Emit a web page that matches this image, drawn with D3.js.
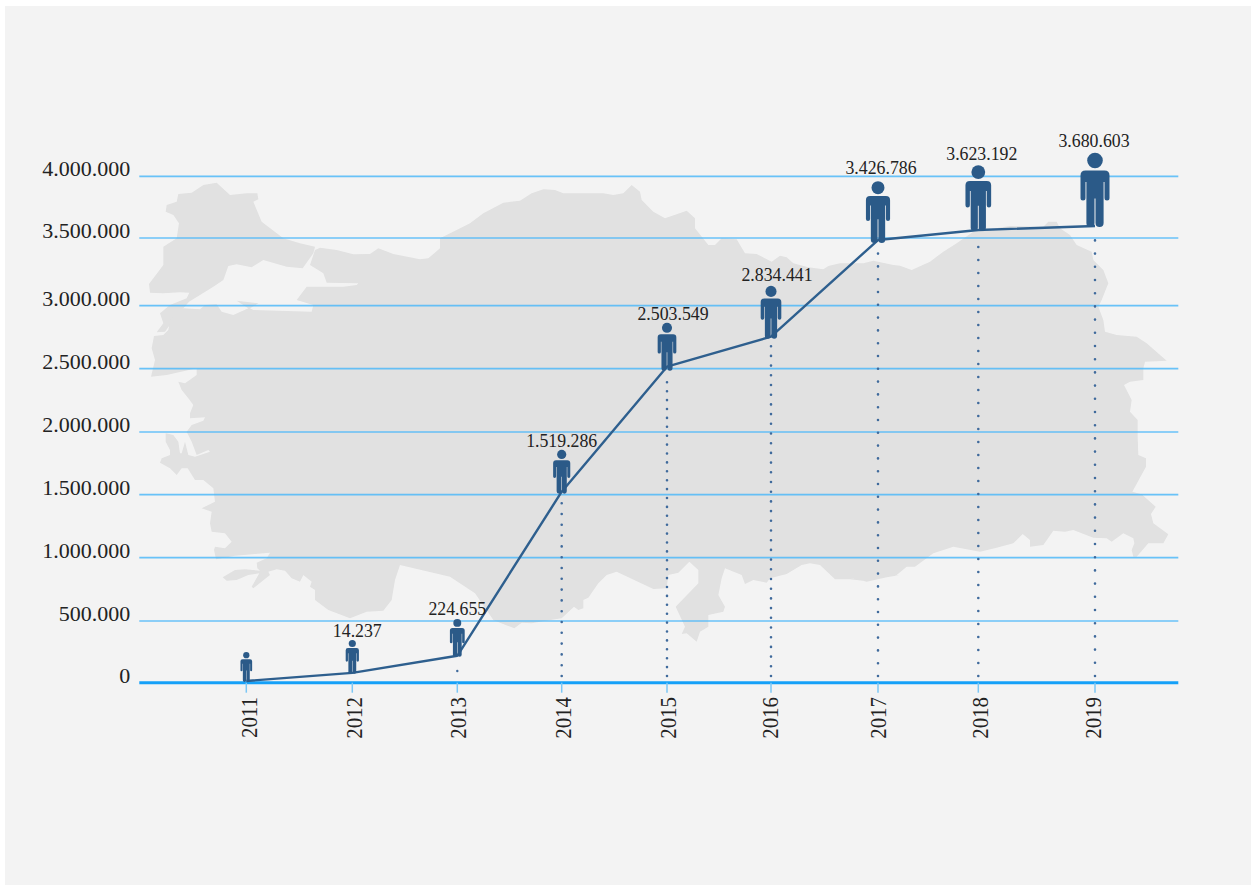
<!DOCTYPE html>
<html><head><meta charset="utf-8">
<script src="https://cdnjs.cloudflare.com/ajax/libs/d3/7.8.5/d3.min.js"></script>
<style>html,body{margin:0;padding:0;background:#fff}svg{display:block}</style>
</head><body><div id="chart"></div>
<script>
const years = [2011,2012,2013,2014,2015,2016,2017,2018,2019];
// values as plotted by the line in the picture
const plottedValues = [14000,80000,218000,1524000,2516000,2754000,3485000,3565000,3597000];
// values as printed above the figures
const printedValues = [null,14237,224655,1519286,2503549,2834441,3426786,3623192,3680603];
const yTicks = [0,500000,1000000,1500000,2000000,2500000,3000000,3500000,4000000];

// scale calibration (its grid is slightly uneven)
const yRange = [682.7,621,557.7,494.7,432,368.7,305.7,238,176.3];
const xRange = [246.3,352.3,457.3,561.7,667,771,878,978.3,1095];
const figureHeights = [30,34,38,44,48,53,62,66,74.5];
const figureFootDrop = [1,1,1,2,4,2,3,1,1];
const labelDx = [0,5,0,0,6,6,3,3.5,-1];
const labelGap = [0,3,4,3,3,4.5,7,5,5.5];
const dotGaps = [0,0,0,10.8,8.9,9.7,12.8,13,13.2];
const yearBaselineDx = [11,9.4,8.4,9,9,7,8,9.4,6];

// silhouette of the background map in [originX, originY, x,y, x,y ...] at 1/3 scale
const thraceTrace = [[0,130,640,470,600,495,567,515,520,570,495,605,470,607,490,580,480,550,510,525,560,505,568,488,540,487,490,490,450,488,447,462,490,405,490,350,530,325,537,280,520,255,497,245,500,225,530,215,535,192,575,188,610,165,650,158,690,195,740,190,772,190,775,208,760,215,785,275,850,325,900,340,945,350,940,370,908,415,860,410,790,390,755,412,710,403,685,408,670,450]];
const anatoliaTrace = [
 [0,130,945,360,960,353,1010,360,1060,373,1110,372,1135,355,1180,372,1260,388],
 [420,130,25,385,60,355,60,325,110,300,150,280,190,250,250,218,300,212,335,190,370,178,405,180,430,190,550,190,580,195,610,190,635,165,660,185,665,210,700,245,735,265,800,242,825,265,825,295,865,345,885,345,905,325,950,328,975,370,1010,372,1055,395,1080,377,1100,382,1120,400,1165,412,1210,418,1225,408,1260,400],
 [830,120,30,430,100,430,130,422,190,435,210,437,245,450,300,425,340,395,380,370,430,335,540,318,640,320,655,305,680,305,690,325,720,345,740,375,785,395,790,420,820,450,835,490,815,540,805,560,820,600,825,635,860,645,920,650,950,670,1010,722],
 [840,360,915,5,910,25,910,60,870,65,852,75,875,120,870,155,893,180,893,230,895,285,918,295,918,320,877,395,905,403,947,440,933,462,940,490,985,523,970,550,925,550,890,590,880,590,875,570,883,550,880,535,850,520,815,545,800,535,760,533,700,510,675,515,640,512,610,555,570,560,570,540,548,522,520,550,470,563,420,575,340,560,280,580,225,620,200,620,170,645,80,665,40,655,0,658],
 [500,500,1200,225,1160,232,1095,243,1050,238,1005,238,960,195,930,190,905,195,860,222,810,235,800,248,760,240,735,252,725,225,675,205,665,235,655,285,675,320,670,335,625,345,625,380,600,395,590,425,560,400,545,402,555,380,527,320,595,250,595,210,568,185,535,218,505,225,500,265,460,267,350,215,320,225,295,250,265,293,250,300,250,325,235,330,222,320,185,355,165,358,120,365,95,370,65,368,43,385,0,368],
 [130,420,1090,600,1035,520,960,470,810,435],
 [200,540,585,120,575,180,550,212,500,215,450,235,385,210,345,180,345,150,330,140,335,125,310,105,300,125,275,115,255,92,230,88,205,95,210,105,160,145,155,140,178,100,145,105,110,120,80,122,68,112,105,90,135,88,180,92,172,85,170,68,200,55,210,38,105,47,48,58,42,30],
 [145,390,210,470,240,475,260,455,240,430,200,425,195,400,200,365,170,355,210,335,205,295,175,270,150,270,128,235,110,235,95,255,75,235,45,218,50,205,75,195,75,180,62,155,62,130,85,135,100,155,105,190,110,190,120,155,130,195,150,200,195,185,190,180,155,195,140,155,125,125,140,105,175,92,180,82,135,85,135,70,145,45,130,25,110,0],
 [0,130,535,755,555,760,590,735,590,715,500,735,453,740,465,690,455,655,462,618,490,615,505,600,510,570,550,535,600,538,615,525,650,523,665,545,700,555,745,535,710,512,775,520,750,535,760,540,935,545,940,525,890,510,920,470,1030,470,1070,465,1075,460,980,458,970,430,930,405]
];

const W = 1251, H = 886, gridLeft = 139.3, gridRight = 1178.3;
const x = d3.scaleLinear().domain(years).range(xRange);
const y = d3.scaleLinear().domain(yTicks).range(yRange);
const heightOf = d3.scaleLinear().domain(years).range(figureHeights);
const locale = d3.formatLocale({decimal:",",thousands:".",grouping:[3],currency:["","" ]});
const fmt = locale.format(",d");
const FONT = '"Liberation Serif","Times New Roman",serif';

const svg = d3.select("#chart").append("svg").attr("width",W).attr("height",H);
svg.append("defs").append("filter").attr("id","soft").append("feGaussianBlur").attr("stdDeviation",0.6);
svg.append("rect").attr("x",5).attr("y",6).attr("width",W-5).attr("height",879).attr("fill","#f3f3f3");

// map
const unpack = tr => tr.flatMap(s => { const p=[]; for(let i=2;i<s.length;i+=2) p.push([s[0]+s[i]/3, s[1]+s[i+1]/3]); return p; });
const outline = d3.line().curve(d3.curveLinearClosed);
svg.append("g").attr("fill","#e1e1e1").attr("filter","url(#soft)").selectAll("path").data([thraceTrace,anatoliaTrace]).join("path").attr("d",d=>outline(unpack(d)));

// y axis + grid
const gy = svg.append("g").attr("transform",`translate(${gridLeft},0)`)
  .call(d3.axisLeft(y).tickValues(yTicks).tickFormat(d=>fmt(d)).tickSize(-(gridRight-gridLeft)).tickPadding(9));
gy.select(".domain").remove();
gy.selectAll(".tick").attr("transform",d=>`translate(0,${y(d)})`);
gy.selectAll(".tick line").attr("stroke",d=>d===0?"#14a0f8":"#4fb9f8").attr("stroke-width",d=>d===0?3:1.7).attr("stroke-opacity",d=>d===0?1:0.85);
gy.selectAll(".tick text").attr("dy",-0.2).attr("font-family",FONT).attr("font-size",22).attr("fill","#222").attr("x",-9);

// x axis
const gx = svg.append("g").attr("transform",`translate(0,${y(0)})`)
  .call(d3.axisBottom(x).tickValues(years).tickFormat(d3.format("d")).tickSize(10));
gx.select(".domain").remove();
gx.selectAll(".tick").attr("transform",d=>`translate(${x(d)},0)`);
gx.selectAll(".tick line").attr("stroke","#7cc7f5").attr("stroke-width",1.5);
gx.selectAll(".tick text")
  .attr("transform",(d,i)=>`translate(${yearBaselineDx[i]},14.3) rotate(-90) scale(0.89,1)`)
  .attr("x",0).attr("y",0).attr("dy",0)
  .attr("text-anchor","end").attr("font-family",FONT).attr("font-size",23.5).attr("fill","#222");

// dotted droplines
const rows = years.map((yr,i)=>({yr,i,plotted:plottedValues[i],printed:printedValues[i],h:heightOf(yr),drop:figureFootDrop[i],dx:labelDx[i],labelGap:labelGap[i],gap:dotGaps[i]}));
const dotBase = 676;
svg.append("g").selectAll("line").data(rows.filter(r=>r.gap>0)).join("line")
  .attr("x1",r=>x(r.yr)).attr("x2",r=>x(r.yr))
  .attr("y1",dotBase).attr("y2",r=>y(r.plotted)+r.drop+4)
  .attr("stroke","#3f6a9c").attr("stroke-width",2.6).attr("stroke-linecap","round")
  .attr("stroke-dasharray",r=>`0 ${r.gap}`);
svg.append("circle").attr("cx",x(2013)).attr("cy",671).attr("r",1.2).attr("fill","#3f6a9c");

// line
svg.append("path").datum(rows).attr("fill","none").attr("stroke","#2e5f8e").attr("stroke-width",2.4).attr("stroke-linejoin","round")
  .attr("d",d3.line().x(r=>x(r.yr)).y(r=>y(r.plotted)));

// figures (drawn in a 74.5-high unit box, feet at y=74.5)
const body = "M-14.5 23Q-14.5 18-9.5 18L9.5 18Q14.5 18 14.5 23L14.5 45.5A2.5 2.5 0 0 1 9.5 45.5L9.5 29.5 8.6 29.5 8.6 70.5A4.05 4 0 0 1 .5 70.5L.5 46-.5 46-.5 70.5A4.05 4 0 0 1-8.6 70.5L-8.6 29.5-9.5 29.5-9.5 45.5A2.5 2.5 0 0 1-14.5 45.5Z";
const fig = svg.append("g").selectAll("g").data(rows).join("g")
  .attr("transform",r=>`translate(${x(r.yr)},${y(r.plotted)+r.drop-r.h}) scale(${r.h/74.5})`)
  .attr("fill","#2b5a88");
fig.append("circle").attr("cx",0).attr("cy",8).attr("r",7.8);
fig.append("path").attr("d",body);

// value labels
svg.append("g").selectAll("text").data(rows.filter(r=>r.printed!==null)).join("text")
  .attr("x",r=>x(r.yr)+r.dx).attr("y",r=>y(r.plotted)+r.drop-r.h-r.labelGap)
  .attr("text-anchor","middle").attr("font-family",FONT).attr("font-size",17.8).attr("fill","#222")
  .text(r=>fmt(r.printed));
</script></body></html>
